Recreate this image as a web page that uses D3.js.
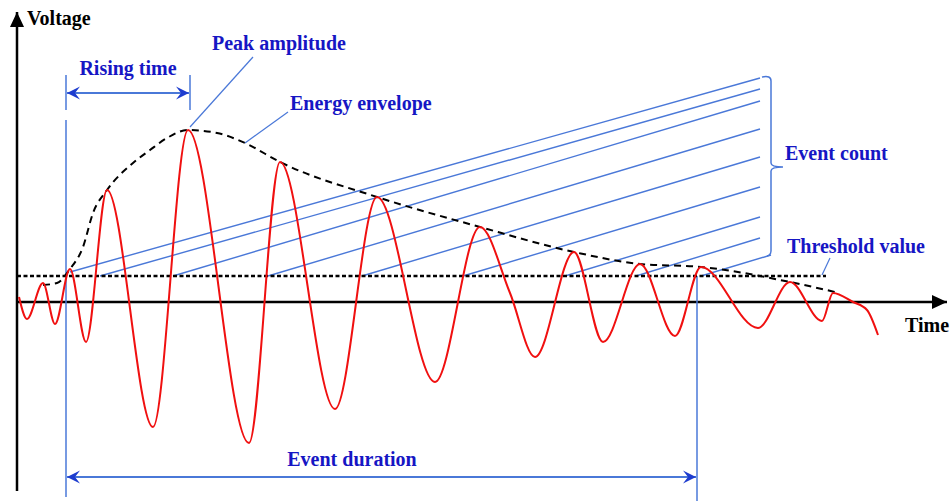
<!DOCTYPE html>
<html>
<head>
<meta charset="utf-8">
<script src="https://cdn.jsdelivr.net/npm/d3@7"></script>
<style>
  body { margin: 0; background: #fff; }
  svg { display: block; }
  .lbl { font-family: "Liberation Serif", "Times New Roman", serif; font-weight: bold; font-size: 20px; }
</style>
</head>
<body>
<div id="chart"></div>
<script>
// signal: [time, voltage]
var wave = [
  [0.2, 0.5], [1.0, -1.7], [2.6, 1.9], [3.8, -2.2], [5.3, 3.3], [6.9, -4.0],
  [9.0, 11.2], [13.6, -12.5], [17.1, 17.2], [23.2, -14.1], [26.3, 14.0],
  [31.8, -10.7], [36.0, 10.5], [41.8, -8.0], [46.3, 7.5], [49.3, 0.9],
  [51.8, -5.5], [55.7, 5.0], [58.6, -4.0], [62.3, 3.8], [65.8, -3.4],
  [68.4, 3.5], [74.1, -2.6], [77.3, 2.0], [80.5, -1.9], [81.6, 0.9],
  [83.6, 0.0], [85.0, -0.8], [86.1, -3.3]
];

var envelope = [
  [2.6, 1.7], [4.0, 1.9], [5.3, 3.3], [6.6, 5.5], [7.6, 8.9], [9.0, 11.2],
  [11.6, 13.9], [13.3, 15.2], [15.0, 16.4], [17.1, 17.2], [20.0, 16.9],
  [22.8, 15.9], [26.3, 14.0], [36.0, 10.5], [46.3, 7.5], [55.7, 5.0],
  [62.3, 3.8], [68.4, 3.5], [77.3, 2.0], [81.8, 1.0]
];

var threshold = 2.6,
    thresholdEnd = 80.9;

// event count lines: start at each threshold crossing, end at the bracket
var countStart = [[5.3, 3.0], [8.3, 2.6], [15.6, 2.6], [25.1, 2.6], [34.5, 2.6],
                  [44.6, 2.6], [54.8, 2.6], [61.9, 2.6], [68.4, 2.6]];
var countEnd = [[74.3, 22.4], [74.3, 21.3], [74.3, 20.1], [74.3, 17.3], [74.3, 14.5],
                [74.3, 11.5], [74.3, 8.5], [74.3, 6.4], [75.4, 4.7]];

var eventStart = 4.9,
    eventEnd = 68.0,
    peakTime = 17.3;

var width = 950,
    height = 501;

var textBlue = "#1616c4",
    lineBlue = "#4a78d8",
    headBlue = "#1d3ccf";

var svg = d3.select("#chart").append("svg")
    .attr("width", width)
    .attr("height", height);

var x = d3.scaleLinear().domain([0, 93.3]).range([17, 950]);
var y = d3.scaleLinear().domain([-20, 30]).range([502, 2]);

var defs = svg.append("defs");
defs.append("marker")
    .attr("id", "axisHead")
    .attr("markerUnits", "userSpaceOnUse")
    .attr("viewBox", "-16 -8 17 16")
    .attr("refX", 0).attr("refY", 0)
    .attr("markerWidth", 17).attr("markerHeight", 16)
    .attr("orient", "auto")
    .append("path")
    .attr("d", "M0,0 L-15,-7 L-15,7 Z")
    .attr("fill", "#000");

defs.append("marker")
    .attr("id", "blueHead")
    .attr("markerUnits", "userSpaceOnUse")
    .attr("viewBox", "-14 -8 15 16")
    .attr("refX", 0).attr("refY", 0)
    .attr("markerWidth", 15).attr("markerHeight", 16)
    .attr("orient", "auto-start-reverse")
    .append("path")
    .attr("d", "M0,0 L-13,-6.5 L-8,0 L-13,6.5 Z")
    .attr("fill", headBlue);

// axes
svg.append("line")
    .attr("x1", x(0)).attr("x2", x(0))
    .attr("y1", y(-18.9)).attr("y2", y(29.3) + 3)
    .attr("stroke", "#000").attr("stroke-width", 2.5)
    .attr("marker-end", "url(#axisHead)");

svg.append("line")
    .attr("x1", x(0)).attr("x2", x(93.3) - 3)
    .attr("y1", y(0)).attr("y2", y(0))
    .attr("stroke", "#000").attr("stroke-width", 2.5)
    .attr("marker-end", "url(#axisHead)");

// event start / end verticals
svg.append("line")
    .attr("x1", x(eventStart)).attr("x2", x(eventStart))
    .attr("y1", y(18.2)).attr("y2", y(-19.5))
    .attr("stroke", lineBlue).attr("stroke-width", 1.5);

svg.append("line")
    .attr("x1", x(eventEnd)).attr("x2", x(eventEnd))
    .attr("y1", y(threshold)).attr("y2", height)
    .attr("stroke", lineBlue).attr("stroke-width", 1.5);

// rising time ticks and arrow
[eventStart, peakTime].forEach(function(t) {
  svg.append("line")
      .attr("x1", x(t)).attr("x2", x(t))
      .attr("y1", y(22.7)).attr("y2", y(19.2))
      .attr("stroke", lineBlue).attr("stroke-width", 1.5);
});

svg.append("line")
    .attr("x1", x(eventStart) + 1).attr("x2", x(peakTime) - 1)
    .attr("y1", y(20.9)).attr("y2", y(20.9))
    .attr("stroke", lineBlue).attr("stroke-width", 2)
    .attr("marker-start", "url(#blueHead)")
    .attr("marker-end", "url(#blueHead)");

svg.append("line")
    .attr("x1", x(eventStart) + 1).attr("x2", x(eventEnd) - 1)
    .attr("y1", y(-17.5)).attr("y2", y(-17.5))
    .attr("stroke", lineBlue).attr("stroke-width", 2)
    .attr("marker-start", "url(#blueHead)")
    .attr("marker-end", "url(#blueHead)");

// event count lines
svg.selectAll(".count")
    .data(countStart)
    .enter().append("line")
      .attr("class", "count")
      .attr("x1", function(d) { return x(d[0]); })
      .attr("y1", function(d) { return y(d[1]); })
      .attr("x2", function(d, i) { return x(countEnd[i][0]); })
      .attr("y2", function(d, i) { return y(countEnd[i][1]); })
      .attr("stroke", lineBlue)
      .attr("stroke-width", 1.4);

// bracket
var bx = x(75.4), btop = y(22.6), bbot = y(4.7), bmid = y(13.5);
svg.append("path")
    .attr("d", "M" + (bx - 9) + "," + (btop + 1) + " Q" + bx + "," + (btop - 1) + " " + bx + "," + (btop + 5) +
               " L" + bx + "," + (bmid - 4) + " Q" + bx + "," + bmid + " " + x(76.6) + "," + bmid +
               " Q" + bx + "," + bmid + " " + bx + "," + (bmid + 4) +
               " L" + bx + "," + (bbot - 4) + " Q" + bx + "," + bbot + " " + (bx - 4) + "," + (bbot + 1))
    .attr("fill", "none")
    .attr("stroke", lineBlue)
    .attr("stroke-width", 1.5);

// threshold
svg.append("line")
    .attr("x1", x(0)).attr("x2", x(thresholdEnd))
    .attr("y1", y(threshold)).attr("y2", y(threshold))
    .attr("stroke", "#000").attr("stroke-width", 2.5)
    .attr("stroke-dasharray", "4,2.5");

// energy envelope
var line = d3.line()
    .x(function(d) { return x(d[0]); })
    .y(function(d) { return y(d[1]); })
    .curve(d3.curveMonotoneX);

svg.append("path")
    .datum(envelope)
    .attr("fill", "none")
    .attr("stroke", "#000")
    .attr("stroke-width", 2)
    .attr("stroke-dasharray", "7,5")
    .attr("d", line);

// signal
svg.append("path")
    .datum(wave)
    .attr("fill", "none")
    .attr("stroke", "#f01010")
    .attr("stroke-width", 2)
    .attr("d", line);

// leader lines
var leaders = [
  [[peakTime, 17.5], [23.6, 24.5]],
  [[22.8, 15.9], [27.1, 19.0]],
  [[80.5, 2.7], [81.3, 4.4]]
];
svg.selectAll(".leader")
    .data(leaders)
    .enter().append("line")
      .attr("class", "leader")
      .attr("x1", function(d) { return x(d[0][0]); })
      .attr("y1", function(d) { return y(d[0][1]); })
      .attr("x2", function(d) { return x(d[1][0]); })
      .attr("y2", function(d) { return y(d[1][1]); })
      .attr("stroke", lineBlue)
      .attr("stroke-width", 1.2);

// labels
var labels = [
  { text: "Voltage", t: 1.0, v: 27.7, anchor: "start", color: "#000" },
  { text: "Time", t: 88.8, v: -3.0, anchor: "start", color: "#000" },
  { text: "Rising time", t: (eventStart + peakTime) / 2, v: 22.7, anchor: "middle", color: textBlue },
  { text: "Peak amplitude", t: 19.5, v: 25.2, anchor: "start", color: textBlue },
  { text: "Energy envelope", t: 27.3, v: 19.2, anchor: "start", color: textBlue },
  { text: "Event count", t: 76.8, v: 14.2, anchor: "start", color: textBlue },
  { text: "Threshold value", t: 77.0, v: 4.9, anchor: "start", color: textBlue },
  { text: "Event duration", t: 33.5, v: -16.4, anchor: "middle", color: textBlue }
];

svg.selectAll(".lbl")
    .data(labels)
    .enter().append("text")
      .attr("class", "lbl")
      .attr("x", function(d) { return x(d.t); })
      .attr("y", function(d) { return y(d.v); })
      .attr("text-anchor", function(d) { return d.anchor; })
      .attr("fill", function(d) { return d.color; })
      .text(function(d) { return d.text; });
</script>
</body>
</html>
